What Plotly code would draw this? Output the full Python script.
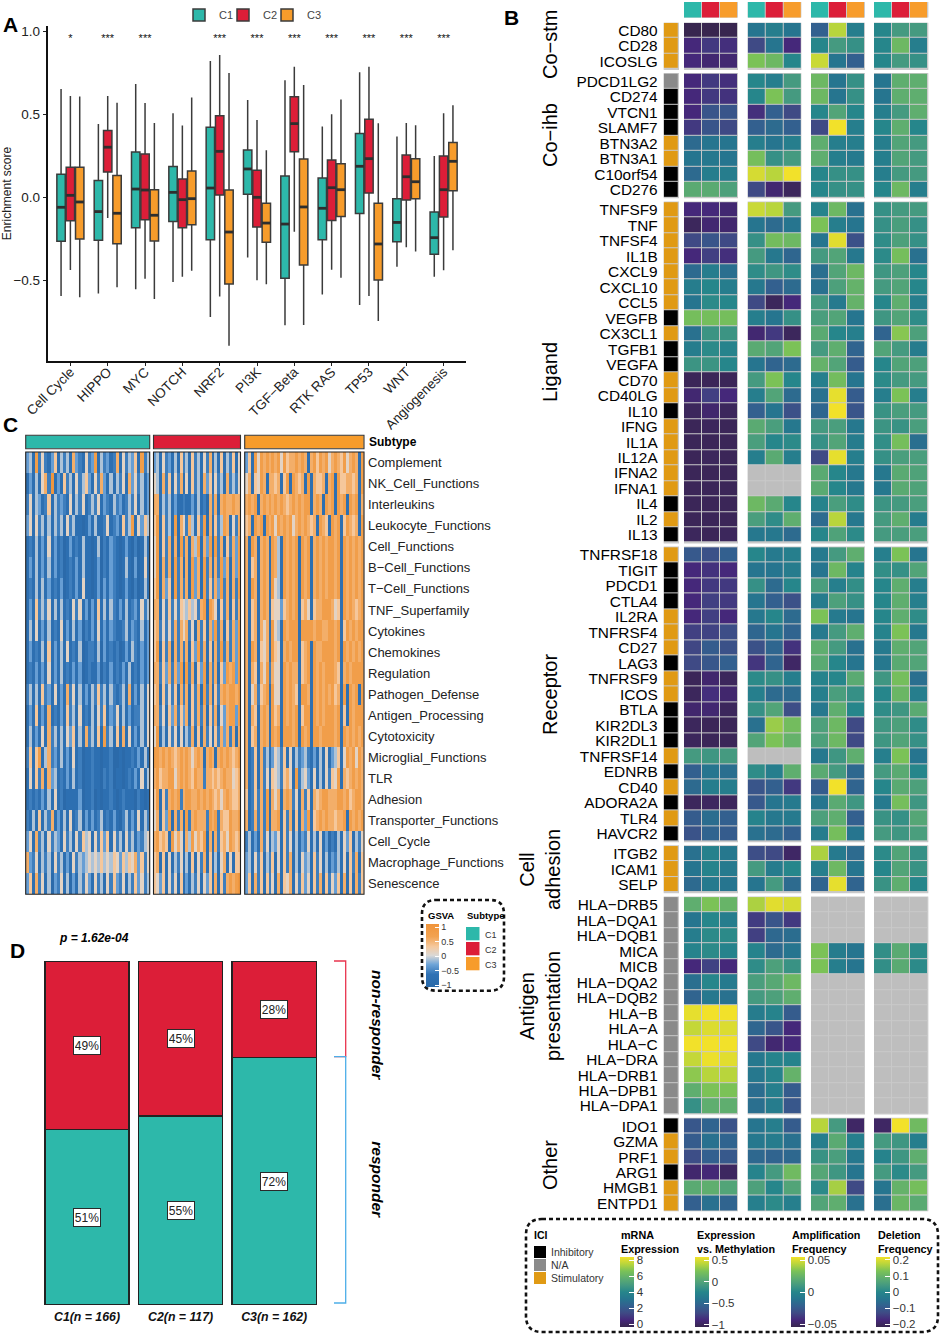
import plotly.graph_objects as go

W, H = 941, 1334
FONT = "Liberation Sans"
TEAL, RED, ORANGE = "#2DB8AA", "#DC1E38", "#F79C2B"
M = "\u2212"

# ---------- Panel A ----------
PATHWAYS = ["Cell Cycle", "HIPPO", "MYC", "NOTCH", "NRF2", "PI3K", f"TGF{M}Beta", "RTK RAS", "TP53", "WNT", "Angiogenesis"]
STARS = ["*", "***", "***", "", "***", "***", "***", "***", "***", "***", "***"]
C1_UP = [.65, .44, .68, .504, .819, .584, .703, .424, .751, .365, .247]
C1_Q3 = [.137, .10, .271, .183, .42, .283, .127, .114, .382, -.01, -.09]
C1_MED = [-.062, -.088, .048, .028, .054, .169, -.163, -.068, .185, -.153, -.245]
C1_Q1 = [-.267, -.261, -.185, -.147, -.257, .016, -.49, -.257, -.10, -.269, -.345]
C1_LOW = [-.596, -.582, -.556, -.512, -.723, -.365, -.773, -.588, -.651, -.42, -.48]
C2_UP = [.608, .608, .566, .43, .855, .464, .785, .498, .785, .446, .504]
C2_Q3 = [.179, .40, .259, .108, .49, .161, .604, .223, .468, .253, .247]
C2_MED = [.01, .30, .042, -.016, .275, -.002, .442, .056, .231, .122, .044]
C2_Q1 = [-.143, .15, -.137, -.185, .012, -.181, .273, -.141, .024, -.018, -.12]
C2_LOW = [-.44, -.127, -.492, -.48, -.60, -.502, -.209, -.438, -.596, -.303, -.442]
C3_UP = [.606, .568, .446, .60, .747, .281, .675, .588, .444, .432, .552]
C3_Q3 = [.179, .129, .044, .157, .042, -.038, .229, .20, -.038, .231, .329]
C3_MED = [-.03, -.098, -.11, -.01, -.211, -.157, -.06, .044, -.283, .092, .215]
C3_Q1 = [-.253, -.281, -.265, -.167, -.524, -.273, -.41, -.118, -.50, -.01, .038]
C3_LOW = [-.604, -.544, -.614, -.444, -.896, -.526, -.771, -.486, -.747, -.329, -.321]

# ---------- Panel B ----------
BLOCK_NAMES = ["Co\u2212stm", "Co\u2212ihb", "Ligand", "Receptor", "Cell<br>adhesion", "Antigen<br>presentation", "Other"]
BLOCK_SIZES = [3, 8, 22, 19, 3, 14, 6]
GENES = ["CD80", "CD28", "ICOSLG",
         "PDCD1LG2", "CD274", "VTCN1", "SLAMF7", "BTN3A2", "BTN3A1", "C10orf54", "CD276",
         "TNFSF9", "TNF", "TNFSF4", "IL1B", "CXCL9", "CXCL10", "CCL5", "VEGFB", "CX3CL1", "TGFB1", "VEGFA",
         "CD70", "CD40LG", "IL10", "IFNG", "IL1A", "IL12A", "IFNA2", "IFNA1", "IL4", "IL2", "IL13",
         "TNFRSF18", "TIGIT", "PDCD1", "CTLA4", "IL2RA", "TNFRSF4", "CD27", "LAG3", "TNFRSF9", "ICOS", "BTLA",
         "KIR2DL3", "KIR2DL1", "TNFRSF14", "EDNRB", "CD40", "ADORA2A", "TLR4", "HAVCR2",
         "ITGB2", "ICAM1", "SELP",
         f"HLA{M}DRB5", f"HLA{M}DQA1", f"HLA{M}DQB1", "MICA", "MICB", f"HLA{M}DQA2", f"HLA{M}DQB2", f"HLA{M}B",
         f"HLA{M}A", f"HLA{M}C", f"HLA{M}DRA", f"HLA{M}DRB1", f"HLA{M}DPB1", f"HLA{M}DPA1",
         "IDO1", "GZMA", "PRF1", "ARG1", "HMGB1", "ENTPD1"]
# 0 inhibitory, 1 N/A, 2 stimulatory
ICI_TYPE = [2, 2, 2,
            1, 0, 0, 0, 2, 2, 0, 0,
            2, 2, 2, 2, 2, 2, 2, 0, 2, 0, 0, 2, 2, 0, 2, 2, 2, 2, 2, 0, 2, 0,
            2, 0, 0, 0, 2, 2, 2, 0, 2, 2, 0, 0, 0, 2, 0, 2, 0, 2, 0,
            2, 2, 2,
            1, 1, 1, 1, 1, 1, 1, 1, 1, 1, 1, 1, 1, 1,
            0, 2, 2, 0, 2, 2]
# Colour-bar positions (0 bottom .. 10 top) per cell.
NA = [None, None, None]
MRNA = [[0, 0, 0], [1, 1.5, 1.2], [1, .8, .8],
        [1, 1.5, 1.2], [1, 1.5, 1.3], [1, 2.5, 2.5], [1.5, 2.5, 2], [3.5, 4, 4], [4, 4.2, 4], [3.5, 4.5, 4.5], [6.8, 6.8, 6.3],
        [1, 1, .8], [.3, .8, .7], [2, 2.5, 2], [1, 1.7, 1.2], [3.5, 4.5, 3.7], [4.5, 5, 4.5], [4, 5.2, 5], [7.8, 7.8, 7.8],
        [3.8, 5.7, 5.7], [4.5, 5.2, 4.8], [5.7, 5.7, 5], [.2, .2, .2], [.8, 1.7, 1], [.3, .7, .3], [.2, .3, .2], [.2, .2, .2],
        [.2, .3, .2], [.2, .2, .2], [.2, .2, .2], [.2, .2, .2], [.2, .2, .2], [.3, .2, .3],
        [2.7, 2.3, 3], [1, 1.3, 1], [1, 1.5, 1.5], [1, 1.7, 1.5], [1, 1.7, 1], [1.7, 1.8, 2.2], [1.9, 2.8, 2.3], [2, 2.6, 3],
        [.2, .7, .3], [.3, 1.2, .7], [.7, .8, .3], [.3, .2, .2], [.3, .2, .2], [6, 5.8, 6], [3, 4, 3.7], [3.5, 4.5, 4.5],
        [.3, .4, .3], [2.8, 3.6, 3], [2.4, 3.2, 2.8],
        [3.8, 4.7, 4.2], [4, 4.8, 4.3], [3.5, 4.3, 4],
        [7, 8, 7.3], [4, 5, 4.5], [4.5, 5.2, 5.2], [4.8, 5.2, 4.8], [1, 1.8, 1], [3.7, 5, 4.3], [3.2, 4.2, 3.8], [9.8, 10, 10],
        [9.2, 9.6, 9.6], [10, 10, 10], [9.2, 9.9, 9.7], [8.3, 9, 9], [7, 8, 8], [5.5, 7, 7],
        [2.6, 3.2, 2.4], [2.8, 3.8, 3.2], [2.2, 3, 2.7], [.7, .9, .4], [6.8, 7, 6.5], [3, 3.8, 3.2]]
EXPR_METH = [[4, 4.5, 4], [2, 4, 1], [8, 7.5, 5],
             [5, 4.5, 6], [5, 8, 6], [1.2, 3, 2], [3, 3.5, 3], [4.5, 4, 4.5], [7.8, 5.5, 6], [9.5, 9, 10], [2, .8, .3],
             [9.3, 9, 6], [4, 3.5, 4], [5.5, 7.7, 7.5], [6, 4.2, 3.3], [5.3, 5.8, 5.3], [4.2, 3, 3.5], [2, .3, 1], [4.5, 4, 5.5],
             [.8, 1.5, .3], [6.8, 6.5, 8], [4, 3.2, 3.5], [6, 8, 5], [4.5, 6.5, 3.5], [3, 4, 2.3], [6.8, 6.2, 4.2], [6.2, 5, 5.2],
             [4.5, 6.8, 4.5], NA, NA, [7.5, 6.8, 5], [6.2, 5.3, 7], [4.2, 4.2, 3.5],
             [5, 4.3, 4.6], [4, 4, 4.4], [5.5, 3.5, 5], [4, 3, 2.3], [4.2, 5, 3.5], [3.3, 4, 3.2], [2.3, 3.3, 1.3], [1.4, 3.2, .5],
             [5.2, 5.5, 4.5], [4.6, 3.5, 3.5], [5.5, 6.5, 2.2], [3.8, 8.5, 7.7], [6.5, 8, 7.2], NA, [5.3, 4.5, 7], [2.5, 3, 1.5],
             [2.7, 4, 4.3], [4.8, 4.2, 4.3], [3.8, 3.5, 3],
             [2.2, 2, .5], [6, 4.4, 5], [4, 6, 3.5],
             [8.8, 9.7, 9.5], [1.6, 2.5, 1.5], [1.7, 3.4, 3.6], [4.8, 3.5, 4], [5.3, 6.3, 5.6], [6.2, 6.7, 7.5], [6, 6.3, 7], [4.4, 4.8, 2.8],
             [3.3, 2.5, 1], [2, .8, 1], [4.2, 4.8, 4.8], [4.2, 4.8, 7.2], [3.6, 4.6, 2.8], [3.7, 4.4, 2.6],
             [4, 4.5, 2.8], [4.2, 4.4, 3.8], [3.4, 3.2, 3.4], [4.8, 6, 7.6], [6.3, 5, 6.5], [4.6, 5.2, 4.6]]
AMPLIFICATION = [[3, 9, 4.5], [5, 6, 5.5], [9.3, 4, 3],
                 [7.5, 4, 5.5], [7.5, 4, 5.5], [5, 6.5, 5], [2, 10, 4.5], [7, 4.5, 4.5], [7, 4.5, 4.3], [5, 5.5, 5.5], [5, 5.5, 5.5],
                 [4.8, 7.5, 3.8], [8, 4.5, 4], [4, 9.7, 2.3], [6, 6.5, 4.2], [3.7, 6.5, 7.5], [3.8, 6.3, 7.2], [6, 4.3, 7.2], [6.2, 6.5, 4],
                 [6.8, 5, 4.6], [6, 7, 3.2], [7.2, 6.5, 2.8], [4.6, 7.7, 4], [3.8, 9.8, 2.8], [3.3, 10, 2.5], [6, 6.2, 4.2], [5.5, 6.5, 4.4],
                 [2, 9.8, 4.5], [6.8, 5, 4.2], [6.8, 5, 4.2], [4.8, 6.2, 5.3], [3.5, 9, 4.2], [5, 6.4, 5.2],
                 [4.3, 6, 7], [4, 7.5, 4.8], [6.2, 4.6, 5.4], [4.4, 6.3, 5.5], [8, 4.3, 4], [4.3, 6, 7], [7, 6, 3.8], [6.8, 5, 4],
                 [4.8, 5, 6.8], [4.6, 6.2, 5.5], [4.2, 7, 5], [6.3, 7.5, 2], [6.3, 7.5, 2], [4.2, 5.8, 7], [6.8, 6, 3.4], [2.8, 10, 3.2],
                 [4, 6.8, 5.8], [6.3, 7, 3], [4.4, 7.8, 4],
                 [8.8, 4.3, 3.5], [4.5, 7.5, 4], [3.2, 9.8, 3.2],
                 NA, NA, NA, [8, 4.4, 4], [8, 4.5, 4], NA, NA, NA, NA, NA, NA, NA, NA, NA,
                 [9, 6, .5], [4.5, 6.8, 4.5], [5.6, 6.2, 4.2], [6.6, 5.8, 4], [5.2, 8.7, 2], [6.5, 7, 3.8]]
DELETION = [[5, 6, 6], [5, 7.5, 4.5], [5, 6, 5.5],
            [4, 7, 7], [4, 7, 7], [4.5, 6, 7], [5, 7, 5], [4.5, 6.5, 6], [4.5, 6.5, 6], [4.5, 6, 6], [5, 7.5, 4.5],
            [5.5, 6, 6], [5.5, 6.2, 5.5], [5.3, 6.3, 5.5], [5.2, 7.8, 3.8], [5.8, 6.3, 5], [6, 6.5, 5], [5, 7, 4.5], [5.8, 6.5, 5.3],
            [3.2, 8.2, 6.3], [6.5, 6, 4.4], [5, 6.5, 6.3], [5.2, 6, 6], [4.5, 8, 4.5], [5.6, 6.2, 6], [5.7, 5.6, 6.2], [5.4, 7.8, 3.7],
            [5.5, 6.2, 6.2], [4.2, 6.8, 6.4], [4.2, 6.8, 6.4], [5.7, 6, 6.2], [6, 7, 4.4], [6, 6.2, 6.2],
            [4.6, 8, 4], [5.4, 5.5, 6.5], [5, 7, 4.5], [5, 7, 4.6], [5, 7, 5.3], [4.8, 8, 4.2], [4.3, 7, 6.5], [4.2, 6.8, 6.5],
            [5.8, 7.8, 3.7], [5, 7.4, 4.5], [5.3, 5.8, 6.8], [5.8, 6.3, 5.3], [5.8, 6.5, 5.5], [4.6, 8, 4], [6, 6.8, 5], [5, 6.8, 6.3],
            [4.3, 7.8, 5.8], [5.6, 5.5, 6.6], [6, 5.8, 6.2],
            [5.2, 6.5, 5.5], [5, 6.5, 5.6], [5.6, 7, 5],
            NA, NA, NA, [5.4, 6.8, 5.2], [5.4, 6.8, 5.2], NA, NA, NA, NA, NA, NA, NA, NA, NA,
            [.5, 10, 7.6], [6, 5.8, 4.5], [4.8, 5.8, 7], [6, 5.2, 6], [4, 7.2, 7.8], [3.7, 7.4, 6.8]]
# bottom and top of each colour bar, in data units, and its ticks
MRNA_RANGE, MRNA_TICKS = (-0.29, 8.41), [0, 2, 4, 6, 8]
EM_RANGE, EM_TICKS = (-1.05, 0.58), [-1, -0.5, 0, 0.5]
AMP_RANGE, AMP_TICKS = (-0.0536, 0.0552), [-0.05, 0, 0.05]
DEL_RANGE, DEL_TICKS = (-0.215, 0.22), [-0.2, -0.1, 0, 0.1, 0.2]
VIRIDIS = ["#38264F", "#45287A", "#3F4A85", "#33608F", "#26758F", "#26868B", "#459A80", "#5FAE6F", "#7BC257", "#B8D53C", "#F2E12A"]

# ---------- Panel C ----------
GSVA_ROWS = ["Complement", "NK_Cell_Functions", "Interleukins", "Leukocyte_Functions", "Cell_Functions", f"B{M}Cell_Functions",
             f"T{M}Cell_Functions", "TNF_Superfamily", "Cytokines", "Chemokines", "Regulation", "Pathogen_Defense",
             "Antigen_Processing", "Cytotoxicity", "Microglial_Functions", "TLR", "Adhesion", "Transporter_Functions",
             "Cell_Cycle", "Macrophage_Functions", "Senescence"]
# stripe shades (0 deep blue .. 9 deep orange), about one digit per 3 px
GSVA_C1 = ["3418252136 1424173215 2381423127 1524361824", "1314157291 3162415246 3152731414 2517352413",
           "2514312614 2321514251 2425132142 3124251413", "3515241414 2415241101 3141125123 1624815364",
           "1214131513 1201312141 1014021321 0131020141", "1314131413 1201213141 1013021321 0141030151",
           "1214141312 1301213151 1013031321 0131020141", "1316242514 1412152513 0316141421 3141231524",
           "1415131412 1513141302 1315131321 1241321413", "1312141613 1415121401 2214031212 0131421313",
           "1213131513 1412131301 2113021312 1314121313", "2414162315 1317251413 1426241421 2417131415",
           "1316131712 1316241512 1415261325 1413122415", "1413151724 1415361417 2416182416 1715131415",
           "2616814723 1413151201 1211011200 1011213141", "1516271734 1213141201 1211021201 1012131514",
           "1212131415 1201111301 1201011210 1211102101", "2141614271 3141512403 1312412131 0241315142",
           "3517241524 3152415264 5152636152 4152413245", "7325142415 2413152434 5454645465 3646573625",
           "3617251403 2514031425 3152415263 2514263524"]
GSVA_C2 = ["3415231416 2416241527 1416142615", "5417261527 1516241736 1524172425", "7714241311 2113141207 2717877877",
           "6816241817 5274162817 1624871527", "5816271718 2717481738 1827162738", "5817271827 1718371827 1728371738",
           "6817361827 2718371826 2738271728", "7715262526 5464527818 7516271627", "6725252727 5725172617 3827162738",
           "6816271727 2716382716 1728272738", "7726372738 1827163817 2716387838", "6716252617 2716271827 1627878878",
           "7725163726 3716272716 2715378838", "5814152515 1427161725 1627372717", "8878787678 7875787178 7178787678",
           "7867788578 7876877277 6767877567", "6816278782 7887787878 7675787667", "5716381727 1827877728 7827668778",
           "7867618575 1748576817 1726758767", "6716151425 1416152716 1415715166", "6536152516 1314251536 1716278789"]
GSVA_C3 = ["3618587878 7858677878 7178687857 8768578718", "5716587177 6716818767 1817667178 1866776718",
           "7878178787 8787678787 8817871878 1878187817", "6718781878 5878785787 8767187618 7816876718",
           "7187178718 7418787818 7817878788 7818787878", "7167178718 7418787818 7817878788 7818787878",
           "7187178718 5418787818 7817878788 7818787878", "7167178716 5536787816 7516778887 5618787678",
           "7167175718 5418788818 8887887788 7816878788", "7187165718 6517878816 7818778888 7818787878",
           "7176175827 5518787716 7818787888 7617878888", "7157267818 5518787618 8718787878 6718187818",
           "7176178718 6718787816 8818787888 7816187888", "7167178718 7818887818 7818878888 7818787878",
           "7126172413 5426151423 4213141513 4615878587", "7126172516 5426751824 5315141526 5817678787",
           "6126272817 5717872517 2617678877 7887867887", "7127272817 7816271617 3816787877 6778187878",
           "2413172514 3516251413 2514151302 1415361425", "3415261426 1516271415 3416251413 2415162716",
           "3617261625 1716571526 3516271625 3617161726"]

# ---------- Panel D ----------
SUBTYPE_LABELS = ["C1(n = 166)", "C2(n = 117)", "C3(n = 162)"]
RESPONDER = [51, 55, 72]
NON_RESPONDER = [49, 45, 28]


def dx(a, b):
    return [a / W, b / W]


def dy(a, b):
    return [1 - b / H, 1 - a / H]


fig = go.Figure()
annotations, shapes = [], []


def text(x, y, s, size=12, color="#000", anchor="left", angle=0, vanchor="middle"):
    annotations.append(dict(x=x / W, y=1 - y / H, xref="paper", yref="paper", text=s, showarrow=False,
                            xanchor=anchor, yanchor=vanchor, textangle=angle, borderpad=0, align=anchor if anchor != "middle" else "center",
                            font=dict(family=FONT, size=size, color=color)))


def paper_rect(x0, y0, x1, y1, fill=None, line=None, width=1):
    shapes.append(dict(type="rect", xref="paper", yref="paper", x0=x0 / W, x1=x1 / W, y0=1 - y0 / H, y1=1 - y1 / H,
                       fillcolor=fill, line=dict(color=line, width=width if line else 0), layer="above"))


def rounded_dashes(x0, y0, x1, y1, r):
    X = lambda v: f"{v / W:.5f}"
    Y = lambda v: f"{1 - v / H:.5f}"
    p = (f"M {X(x0 + r)} {Y(y0)} L {X(x1 - r)} {Y(y0)} Q {X(x1)} {Y(y0)} {X(x1)} {Y(y0 + r)} "
         f"L {X(x1)} {Y(y1 - r)} Q {X(x1)} {Y(y1)} {X(x1 - r)} {Y(y1)} L {X(x0 + r)} {Y(y1)} "
         f"Q {X(x0)} {Y(y1)} {X(x0)} {Y(y1 - r)} L {X(x0)} {Y(y0 + r)} Q {X(x0)} {Y(y0)} {X(x0 + r)} {Y(y0)} Z")
    shapes.append(dict(type="path", xref="paper", yref="paper", path=p,
                       line=dict(color="#111", width=2.6, dash="4px,3px"), layer="above"))


# ========== Panel A ==========
pos = list(range(1, 12))
series = [("C1", TEAL, -0.25, C1_LOW, C1_Q1, C1_MED, C1_Q3, C1_UP, "legend"),
          ("C2", RED, 0.0, C2_LOW, C2_Q1, C2_MED, C2_Q3, C2_UP, "legend2"),
          ("C3", ORANGE, 0.25, C3_LOW, C3_Q1, C3_MED, C3_Q3, C3_UP, "legend3")]
BOX_W = 0.225
for name, col, off, low, q1, med, q3, up, leg in series:
    xs = [p + off for p in pos]
    fig.add_trace(go.Box(x=xs, lowerfence=low, q1=q1, median=med, q3=q3, upperfence=up, name=name, width=BOX_W,
                         fillcolor=col, line=dict(color="#3B3B3B", width=1.5), whiskerwidth=0, boxpoints=False,
                         hoverinfo="skip", xaxis="x", yaxis="y", showlegend=True, legend=leg))
    mx, my = [], []
    for x, m in zip(xs, med):
        mx += [x - BOX_W / 2, x + BOX_W / 2, None]
        my += [m, m, None]
    fig.add_trace(go.Scatter(x=mx, y=my, mode="lines", line=dict(color="#2E2E2E", width=2.8), showlegend=False,
                             hoverinfo="skip", xaxis="x", yaxis="y"))
fig.add_trace(go.Scatter(x=pos, y=[0.95] * len(pos), mode="text", text=STARS, textposition="middle center",
                         textfont=dict(family=FONT, size=11, color="#111"), showlegend=False, hoverinfo="skip",
                         xaxis="x", yaxis="y"))

# ========== Panel B ==========
blocks, start = [], 0
offset = 0.0
BLOCK_GAP = 0.3
centres = []
for n in BLOCK_SIZES:
    ys = [offset + i + 0.5 for i in range(n)]
    centres += ys
    blocks.append((start, start + n, ys))
    start += n
    offset += n + BLOCK_GAP
B_TOTAL = offset - BLOCK_GAP

VSCALE = [[i / 10, c] for i, c in enumerate(VIRIDIS)]
GROUPS = [("x4", MRNA, MRNA_RANGE, "coloraxis"), ("x5", EXPR_METH, EM_RANGE, "coloraxis2"),
          ("x6", AMPLIFICATION, AMP_RANGE, "coloraxis3"), ("x7", DELETION, DEL_RANGE, "coloraxis4")]
GRID = "#C9C9C9"
for a, b, ys in blocks:
    # ICI column
    fig.add_trace(go.Heatmap(z=[[ICI_TYPE[i]] for i in range(a, b)], x=[0], y=ys, zmin=0, zmax=2, showscale=False,
                             colorscale=[[0, "#000000"], [0.5, "#8A8A8A"], [1, "#E09A14"]], xgap=1, ygap=1,
                             xaxis="x3", yaxis="y3", hoverinfo="skip"))
    shapes.append(dict(type="rect", xref="x3", yref="y3", x0=-0.5, x1=0.5, y0=ys[0] - 0.5, y1=ys[-1] + 0.5,
                       fillcolor=GRID, line=dict(color=GRID, width=1.5), layer="below"))
    for xa, table, (lo, hi), cax in GROUPS:
        rows = table[a:b]
        z = [[None if v is None else lo + v / 10 * (hi - lo) for v in r] for r in rows]
        mask = [[1 if v is None else None for v in r] for r in rows]
        if any(v == 1 for r in mask for v in r):
            fig.add_trace(go.Heatmap(z=mask, x=[0, 1, 2], y=ys, colorscale=[[0, "#BEBEBE"], [1, "#BEBEBE"]],
                                     showscale=False, xgap=1, ygap=1, xaxis=xa, yaxis="y3", hoverinfo="skip"))
        fig.add_trace(go.Heatmap(z=z, x=[0, 1, 2], y=ys, coloraxis=cax, xgap=1, ygap=1, xaxis=xa, yaxis="y3",
                                 hoverinfo="skip"))
        shapes.append(dict(type="rect", xref=xa, yref="y3", x0=-0.5, x1=2.5, y0=ys[0] - 0.5, y1=ys[-1] + 0.5,
                           fillcolor=GRID, line=dict(color=GRID, width=1.5), layer="below"))
for xa, _, _, _ in GROUPS:
    fig.add_trace(go.Heatmap(z=[[0, 1, 2]], x=[0, 1, 2], y=[0], zmin=0, zmax=2, showscale=False, xgap=1,
                             colorscale=[[0, TEAL], [0.5, RED], [1, ORANGE]], xaxis=xa, yaxis="y4", hoverinfo="skip"))
    shapes.append(dict(type="rect", xref=xa, yref="y4", x0=-0.5, x1=2.5, y0=-0.5, y1=0.5,
                       fillcolor=GRID, line=dict(color=GRID, width=1.5), layer="below"))

# ========== Panel C ==========
GSVA_GROUPS = [("x8", GSVA_C1, 0), ("x9", GSVA_C2, 1), ("x10", GSVA_C3, 2)]
ncols = {}
for xa, rows, code in GSVA_GROUPS:
    digits = [r.replace(" ", "") for r in rows]
    z = [[-1 + int(c) * 2 / 9 for c in d] for d in digits]
    ncols[xa] = len(digits[0])
    fig.add_trace(go.Heatmap(z=z, x=list(range(ncols[xa])), y=[i + 0.5 for i in range(len(GSVA_ROWS))],
                             coloraxis="coloraxis5", xaxis=xa, yaxis="y5", hoverinfo="skip"))
    fig.add_trace(go.Heatmap(z=[[code] * ncols[xa]], x=list(range(ncols[xa])), y=[0], zmin=0, zmax=2, showscale=False,
                             colorscale=[[0, TEAL], [0.5, RED], [1, ORANGE]], xaxis=xa, yaxis="y6", hoverinfo="skip"))

C_X = [(25.7, 149.7), (153.5, 240.5), (244.7, 364)]
for a, b in C_X:
    paper_rect(a, 452, b, 894.3, line="#1E1E1E", width=1.1)
    paper_rect(a, 435.3, b, 448.7, line="#333", width=1.1)

# ========== Panel D ==========
xs_d = [1, 2, 3]
fig.add_trace(go.Bar(x=xs_d, y=RESPONDER, width=0.9, marker=dict(color=TEAL, line=dict(color="#222", width=1.5)),
                     xaxis="x2", yaxis="y2", showlegend=False, hoverinfo="skip"))
fig.add_trace(go.Bar(x=xs_d, y=NON_RESPONDER, width=0.9, marker=dict(color=RED, line=dict(color="#222", width=1.5)),
                     xaxis="x2", yaxis="y2", showlegend=False, hoverinfo="skip"))
for x, r, n in zip(xs_d, RESPONDER, NON_RESPONDER):
    for yv, lab in ((r / 2, r), (r + n / 2, n)):
        annotations.append(dict(x=x, y=yv, xref="x2", yref="y2", text=f"{lab}%", showarrow=False, bgcolor="#fff",
                                bordercolor="#2A2A2A", borderwidth=1, width=24, height=15,
                                font=dict(family=FONT, size=12, color="#222")))
shapes.append(dict(type="path", xref="paper", yref="paper", line=dict(color="#E8344E", width=1.3),
                   path=f"M {334/W} {1-961/H} L {345.7/W} {1-961/H} L {345.7/W} {1-1056.7/H} L {334/W} {1-1056.7/H}"))
shapes.append(dict(type="path", xref="paper", yref="paper", line=dict(color="#4DAEE8", width=1.3),
                   path=f"M {334/W} {1-1056.7/H} L {345.7/W} {1-1056.7/H} L {345.7/W} {1-1303/H} L {334/W} {1-1303/H}"))
text(377.7, 1024.7, "<b><i>non-responder</i></b>", size=15.5, anchor="center", angle=90)
text(377.7, 1180, "<b><i>responder</i></b>", size=15.5, anchor="center", angle=90)
text(58, 938, "<b><i>p = 1.62e-04</i></b>", size=12)

# ---------- panel letters ----------
text(2, 24, "<b>A</b>", size=21)
text(503, 18, "<b>B</b>", size=21)
text(2, 425, "<b>C</b>", size=21)
text(9, 950, "<b>D</b>", size=21)

# ---------- B block titles ----------
TITLE_Y = [45, 135, 372, 695, 870, 1006, 1165]
TITLE_X = [550, 550, 550, 550, 540, 540, 550]
for name, x, y in zip(BLOCK_NAMES, TITLE_X, TITLE_Y):
    text(x, y, name, size=20, anchor="center", angle=-90)

# ---------- C labels and legend ----------
text(368, 442, "<b>Subtype</b>", size=12)
rounded_dashes(422, 900, 504, 990.7, 14)
text(427, 915, "<b>GSVA</b>", size=9.5)
text(465.7, 915, "<b>Subtype</b>", size=9.5)
for i, (lab, col) in enumerate(zip(["C1", "C2", "C3"], [TEAL, RED, ORANGE])):
    paper_rect(466, 927 + 15 * i, 479.5, 940.3 + 15 * i, fill=col)
    text(484, 935 + 15 * i, lab, size=9, color="#333")

# ---------- B legend ----------
rounded_dashes(526, 1219, 938, 1332, 16)
text(533, 1235, "<b>ICI</b>", size=10.5)
for i, (lab, col) in enumerate(zip(["Inhibitory", "N/A", "Stimulatory"], ["#000000", "#8A8A8A", "#E09A14"])):
    paper_rect(534, 1246 + 13 * i, 546, 1258 + 13 * i, fill=col)
    text(550, 1252 + 13 * i, lab, size=10.5, color="#333")
for x, s in ((620, "<b>mRNA<br>Expression</b>"), (695.7, "<b>Expression<br>vs. Methylation</b>"),
             (791, "<b>Amplification<br>Frequency</b>"), (877, "<b>Deletion<br>Frequency</b>")):
    text(x, 1241.5, s, size=10.8)


def cbar(x, ticks, fmt=None):
    return dict(thicknessmode="pixels", thickness=14.3, lenmode="pixels", len=70, x=x / W, xanchor="left", xpad=0, ypad=0,
                y=1 - 1291.7 / H, yanchor="middle", outlinewidth=0, ticks="inside", ticklen=5, tickcolor="#fff", tickwidth=1.2,
                tickvals=ticks, ticktext=[str(t).replace("-", M) for t in ticks],
                tickfont=dict(family=FONT, size=11.5, color="#333"))


layout_axes = dict(
    xaxis=dict(domain=dx(48, 466), range=[0.4, 11.6], tickvals=pos, ticktext=PATHWAYS, tickangle=-45, ticks="outside",
               ticklen=3, tickcolor="#222", showline=True, linecolor="#111", linewidth=1.6, showgrid=False, zeroline=False,
               tickfont=dict(family=FONT, size=13.5, color="#222"), anchor="y", automargin=False, ticklabelstandoff=-7),
    yaxis=dict(domain=dy(26, 361), range=[(197 - 361) / 166, (197 - 26) / 166], tickvals=[-0.5, 0, 0.5, 1],
               ticktext=[f"{M}0.5", "0.0", "0.5", "1.0"], ticks="outside", ticklen=3, tickcolor="#222", showline=True,
               linecolor="#111", linewidth=2.4, showgrid=False, zeroline=False, anchor="x", automargin=False,
               tickfont=dict(family=FONT, size=13.5, color="#222"),
               title=dict(text="Enrichment score", font=dict(family=FONT, size=12, color="#222"), standoff=4)),
    xaxis2=dict(domain=dx(40, 321), range=[1 - 47 / 93.6, 3 + 46.8 / 93.6], tickvals=xs_d,
                ticktext=[f"<b><i>{s}</i></b>" for s in SUBTYPE_LABELS], showgrid=False, zeroline=False, ticks="", ticklen=0,
                showline=False, tickfont=dict(family=FONT, size=12.3, color="#111"), anchor="y2", ticklabelstandoff=3),
    yaxis2=dict(domain=dy(961, 1305), range=[0, 100], visible=False, anchor="x2"),
    xaxis3=dict(domain=dx(663.7, 679), range=[-0.5, 0.5], visible=False, anchor="y3"),
    yaxis3=dict(domain=dy(22.7, 1211.3), range=[B_TOTAL, 0], tickvals=centres, ticktext=GENES, showgrid=False, zeroline=False,
                showline=False, ticks="", anchor="x3", ticklabelstandoff=5,
                tickfont=dict(family=FONT, size=15.4, color="#000")),
    yaxis4=dict(domain=dy(2, 17.5), range=[-0.5, 0.5], visible=False, anchor="x4"),
    xaxis8=dict(domain=dx(*C_X[0]), range=[-0.5, ncols["x8"] - 0.5], visible=False, anchor="y5"),
    xaxis9=dict(domain=dx(*C_X[1]), range=[-0.5, ncols["x9"] - 0.5], visible=False, anchor="y5"),
    xaxis10=dict(domain=dx(*C_X[2]), range=[-0.5, ncols["x10"] - 0.5], visible=False, anchor="y5"),
    yaxis5=dict(domain=dy(452, 894.3), range=[len(GSVA_ROWS), 0], side="right", anchor="x10",
                tickvals=[i + 0.5 for i in range(len(GSVA_ROWS))], ticktext=GSVA_ROWS, showgrid=False, zeroline=False,
                ticks="", showline=False, ticklabelstandoff=3, tickfont=dict(family=FONT, size=13, color="#222")),
    yaxis6=dict(domain=dy(435.3, 448.7), range=[-0.5, 0.5], visible=False, anchor="x8"),
)
for i, (a, b) in zip([4, 5, 6, 7], [(684, 738), (747.7, 801.3), (811, 865), (874, 928.3)]):
    layout_axes[f"xaxis{i}"] = dict(domain=dx(a, b), range=[-0.5, 2.5], visible=False, anchor="y3")

GSVA_SCALE = [[0, "#2A69A8"], [0.2, "#2F72B5"], [0.36, "#6FA5D8"], [0.5, "#DAD8D6"], [0.64, "#F5C99E"], [0.8, "#F2A250"], [1, "#F0943A"]]
gsva_bar = dict(thicknessmode="pixels", thickness=13, lenmode="pixels", len=63.3, x=426 / W, xanchor="left", xpad=0, ypad=0,
                y=1 - 955.6 / H, yanchor="middle", outlinewidth=0, ticks="inside", ticklen=4, tickcolor="#fff",
                tickvals=[-1, -0.5, 0, 0.5, 1], ticktext=[f"{M}1", f"{M}0.5", "0", "0.5", "1"],
                tickfont=dict(family=FONT, size=9, color="#333"))


def legend_at(x):
    return dict(orientation="h", x=x / W, xanchor="left", y=1 - 15 / H, yanchor="middle", bgcolor="rgba(0,0,0,0)",
                font=dict(family=FONT, size=11, color="#444"), itemwidth=30, traceorder="normal")


fig.update_layout(
    width=W, height=H, margin=dict(l=0, r=0, t=0, b=0, autoexpand=False), paper_bgcolor="#fff", plot_bgcolor="#fff",
    font=dict(family=FONT), barmode="stack", annotations=annotations, shapes=shapes,
    legend=legend_at(179), legend2=legend_at(223), legend3=legend_at(267),
    coloraxis=dict(colorscale=VSCALE, cmin=MRNA_RANGE[0], cmax=MRNA_RANGE[1], colorbar=cbar(620, MRNA_TICKS)),
    coloraxis2=dict(colorscale=VSCALE, cmin=EM_RANGE[0], cmax=EM_RANGE[1], colorbar=cbar(695, EM_TICKS)),
    coloraxis3=dict(colorscale=VSCALE, cmin=AMP_RANGE[0], cmax=AMP_RANGE[1], colorbar=cbar(791, AMP_TICKS)),
    coloraxis4=dict(colorscale=VSCALE, cmin=DEL_RANGE[0], cmax=DEL_RANGE[1], colorbar=cbar(876, DEL_TICKS)),
    coloraxis5=dict(colorscale=GSVA_SCALE, cmin=-1.07, cmax=1.1, colorbar=gsva_bar),
    **layout_axes,
)
fig.write_html("out.html", config=dict(displayModeBar=False),
               post_script="document.body.style.margin='0';document.documentElement.style.overflow='hidden';")
